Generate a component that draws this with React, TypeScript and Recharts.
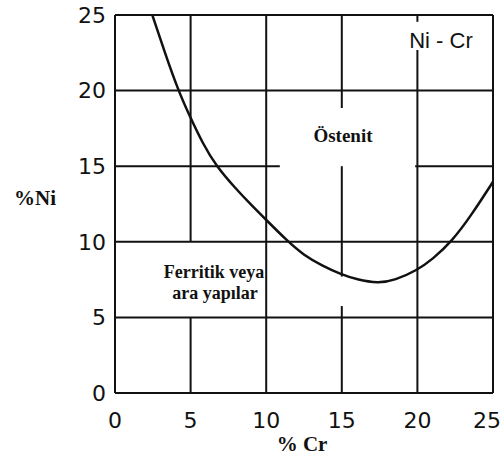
import { LineChart, Line, XAxis, YAxis, ReferenceLine } from 'recharts';

// Ni-Cr boundary curve
const crValues = [2.47, 3.3, 4.19, 4.9, 5.8, 6.7, 8, 9, 10, 11.35, 12.5, 13.75, 14.9, 16, 17.4, 18.5, 20, 21, 22.26, 23.6, 25];
const niValues = [25, 22.5, 20, 18.4, 16.5, 15, 13.5, 12.45, 11.45, 10.1, 9.1, 8.4, 7.87, 7.5, 7.25, 7.45, 8.13, 8.85, 10, 11.8, 13.97];

const xTicks = [0, 5, 10, 15, 20, 25];
const yTicks = [0, 5, 10, 15, 20, 25];

// grid pieces, some lines are broken around the labels
const gridSegments: [number, number, number, number][] = [
    // frame
    [0, 0, 0, 25],
    [25, 0, 25, 25],
    [0, 0, 25, 0],
    [0, 25, 25, 25],
    // verticals
    [5, 10, 5, 25],
    [5, 0, 5, 5],
    [10, 0, 10, 25],
    [15, 18.85, 15, 25],
    [15, 7.7, 15, 15],
    [15, 0, 15, 5.75],
    [20, 24.55, 20, 25],
    [20, 0, 20, 22.68],
    // horizontals
    [0, 5, 25, 5],
    [0, 10, 25, 10],
    [0, 15, 10.9, 15],
    [19.85, 15, 25, 15],
    [0, 20, 25, 20],
];

const data = crValues.map((cr, i) => ({ cr, ni: niValues[i] }));

const tickStyle = { fill: '#111', fontSize: 22, fontFamily: 'DejaVu Sans' };
const serifBold = { fontFamily: 'Liberation Serif', fontWeight: 700, fill: '#111' };

// last x label sits a bit inside the edge, like the print
const XTick = (props: any) => {
    const { x, y, payload } = props;
    const shift = payload.value === 25 ? -6 : 0;
    return (
        <text x={x + shift} y={y} dy={16} textAnchor="middle" {...tickStyle}>
            {payload.value}
        </text>
    );
};

export default function App() {
    return (
        <div style={{ position: 'absolute', left: 0, top: 0, background: '#fff' }}>
            <LineChart
                width={501}
                height={459}
                data={data}
                margin={{ top: 15, right: 8, left: 55, bottom: 26 }}
            >
                <XAxis
                    type="number"
                    dataKey="cr"
                    domain={[0, 25]}
                    ticks={xTicks}
                    axisLine={false}
                    tickLine={false}
                    tick={<XTick />}
                    tickMargin={13}
                    height={40}
                    allowDataOverflow
                />
                <YAxis
                    type="number"
                    domain={[0, 25]}
                    ticks={yTicks}
                    axisLine={false}
                    tickLine={false}
                    tick={tickStyle}
                    tickMargin={3}
                    width={60}
                    allowDataOverflow
                />
                {gridSegments.map(([x1, y1, x2, y2], i) => (
                    <ReferenceLine
                        key={`g-${i}`}
                        segment={[{ x: x1, y: y1 }, { x: x2, y: y2 }]}
                        stroke="#111"
                        strokeWidth={2}
                        ifOverflow="visible"
                    />
                ))}
                <Line
                    type="basis"
                    dataKey="ni"
                    stroke="#111"
                    strokeWidth={2.5}
                    dot={false}
                    isAnimationActive={false}
                />
                <text x={343} y={142} textAnchor="middle" fontSize={19} {...serifBold}>Östenit</text>
                <text x={214} y={278} textAnchor="middle" fontSize={18} {...serifBold}>Ferritik veya</text>
                <text x={215} y={299} textAnchor="middle" fontSize={18} {...serifBold}>ara yapılar</text>
                <text x={35} y={205} textAnchor="middle" fontSize={21} {...serifBold}>%Ni</text>
                <text x={302} y={451} textAnchor="middle" fontSize={21} {...serifBold}>% Cr</text>
                <text x={441} y={48} textAnchor="middle" fontSize={22} fontFamily="Liberation Sans" fill="#111">Ni - Cr</text>
            </LineChart>
        </div>
    );
}
